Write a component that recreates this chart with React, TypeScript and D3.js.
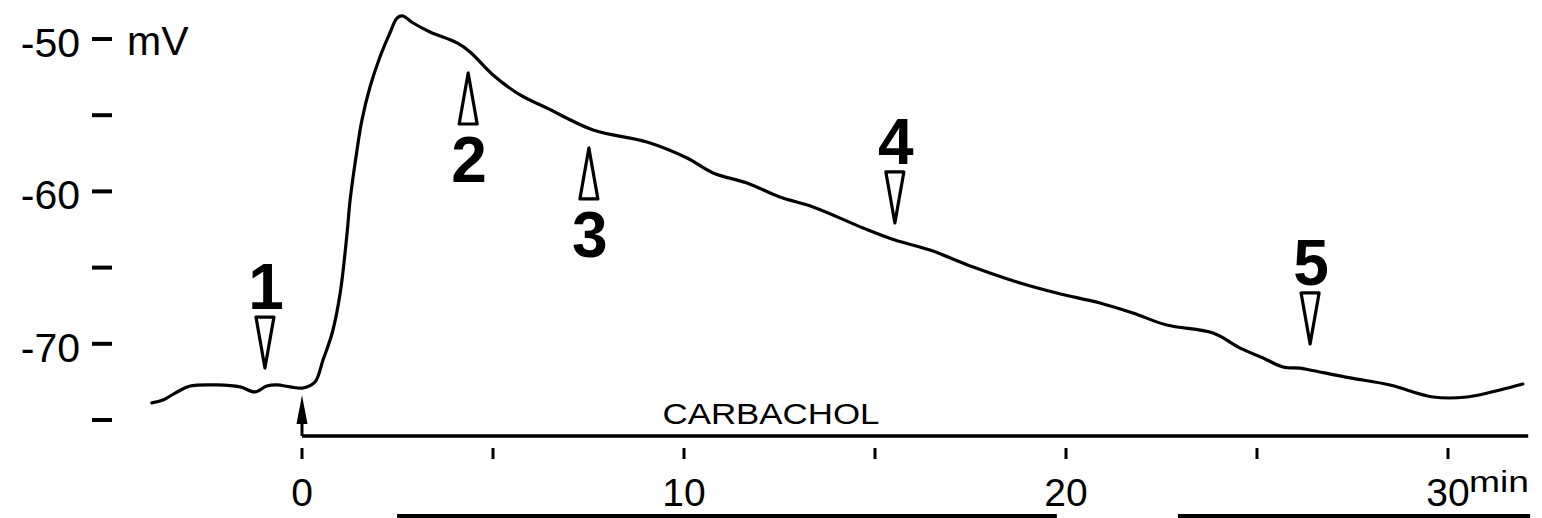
import React from "react";
import * as d3 from "d3";

// Membrane potential trace (min, mV)
const traceTime = [
  -3.93, -3.64, -3.27, -2.93, -2.23, -1.62, -1.23, -0.92, -0.65, -0.31, 0.03,
  0.34, 0.55, 0.79, 1.0, 1.18, 1.26, 1.44, 1.57, 1.78, 2.04, 2.3, 2.49, 2.64,
  2.91, 3.35, 4.06, 4.4, 5.0, 5.71, 6.41, 7.62, 9.03, 10.08, 10.76, 11.65,
  12.51, 13.38, 14.69, 15.52, 16.44, 17.57, 18.8, 19.76, 20.89, 21.75, 22.64,
  23.85, 24.56, 25.16, 25.68, 26.13, 26.39, 27.44, 28.48, 29.61, 30.5, 31.36,
  31.96,
];
const traceMv = [
  -73.88, -73.69, -73.16, -72.77, -72.7, -72.83, -73.16, -72.77, -72.7, -72.83,
  -72.9, -72.51, -71.06, -69.29, -66.67, -62.73, -60.56, -57.28, -55.31,
  -53.15, -51.18, -49.61, -48.62, -48.49, -48.95, -49.54, -50.26, -50.85,
  -52.36, -53.67, -54.53, -55.97, -56.76, -57.81, -58.79, -59.45, -60.37,
  -61.02, -62.4, -63.19, -63.85, -64.96, -66.01, -66.67, -67.32, -67.98,
  -68.77, -69.29, -70.28, -70.93, -71.52, -71.6, -71.72, -72.24, -72.7,
  -73.49, -73.49, -73.03, -72.64,
];

// Axis ticks
const yTicks = [-50, -55, -60, -65, -70, -75];
const yTickLabels = [-50, -60, -70];
const xTicks = [0, 5, 10, 15, 20, 25, 30];
const xTickLabels = [0, 10, 20, 30];

// Carbachol application (min)
const carbacholStart = 0;
const carbacholEnd = 32.1;

// Sampling markers: label, time (min), arrow tip potential (mV), direction
const markerLabels = ["1", "2", "3", "4", "5"];
const markerTimes = [-0.97, 4.35, 7.51, 15.52, 26.39];
const markerTips = [-71.59, -52.23, -57.15, -62.07, -70.01];
const markerDirs = ["down", "up", "up", "down", "down"];

// Rules along the lower edge (min)
const lowerRuleSpans = [
  [2.49, 19.76],
  [22.93, 32.15],
];

const W = 1542;
const H = 518;
const FONT = "'Liberation Sans', Arial, Helvetica, sans-serif";

export default function App() {
  const x = d3.scaleLinear().domain([0, 30]).range([302, 1448]);
  const y = d3.scaleLinear().domain([-75, -50]).range([420, 39]);

  const line = d3
    .line<number>()
    .x((_, i) => x(traceTime[i]))
    .y((d) => y(d))
    .curve(d3.curveCatmullRom.alpha(0.5));

  const barY = 436;
  const tickTop = 448;
  const tickBottom = 459;
  const labelBase = 506;

  const triW = 18;
  const triH = 51;

  const arrowX = x(carbacholStart);

  return (
    <svg
      width={W}
      height={H}
      viewBox={`0 0 ${W} ${H}`}
      style={{ position: "absolute", left: 0, top: 0, background: "#fff" }}
    >
      <rect x={0} y={0} width={W} height={H} fill="#fff" />

      {/* y axis dashes and labels */}
      {yTicks.map((v) => (
        <line
          key={`yt${v}`}
          x1={92}
          x2={112}
          y1={y(v)}
          y2={y(v)}
          stroke="#000"
          strokeWidth={4}
        />
      ))}
      {yTickLabels.map((v) => (
        <text
          key={`yl${v}`}
          x={80}
          y={y(v) + 18}
          textAnchor="end"
          fontFamily={FONT}
          fontSize={41}
          fill="#000"
        >
          {`-${Math.abs(v)}`}
        </text>
      ))}
      <text x={127} y={55} fontFamily={FONT} fontSize={41} fill="#000">
        mV
      </text>

      {/* trace */}
      <path
        d={line(traceMv) || ""}
        fill="none"
        stroke="#000"
        strokeWidth={3.2}
        strokeLinejoin="round"
        strokeLinecap="round"
      />

      {/* carbachol bar with onset arrow */}
      <line
        x1={x(carbacholStart)}
        x2={x(carbacholEnd)}
        y1={barY}
        y2={barY}
        stroke="#000"
        strokeWidth={3.5}
      />
      <line
        x1={arrowX}
        x2={arrowX}
        y1={barY}
        y2={422}
        stroke="#000"
        strokeWidth={3}
      />
      <path
        d={`M${arrowX},395 L${arrowX - 5.5},424 L${arrowX + 5.5},424 Z`}
        fill="#000"
      />
      <text
        x={771}
        y={424}
        textAnchor="middle"
        fontFamily={FONT}
        fontSize={29}
        textLength={217}
        lengthAdjust="spacingAndGlyphs"
        fill="#000"
      >
        CARBACHOL
      </text>

      {/* time axis */}
      {xTicks.map((t) => (
        <line
          key={`xt${t}`}
          x1={x(t)}
          x2={x(t)}
          y1={tickTop}
          y2={tickBottom}
          stroke="#000"
          strokeWidth={3}
        />
      ))}
      {xTickLabels.map((t) => (
        <text
          key={`xl${t}`}
          x={x(t)}
          y={labelBase}
          textAnchor="middle"
          fontFamily={FONT}
          fontSize={39}
          fill="#000"
        >
          {t}
        </text>
      ))}
      <text
        x={x(30) + 21}
        y={492}
        fontFamily={FONT}
        fontSize={29}
        textLength={60}
        lengthAdjust="spacingAndGlyphs"
        fill="#000"
      >
        min
      </text>

      {/* markers */}
      {markerLabels.map((lab, i) => {
        const tx = x(markerTimes[i]);
        const ty = y(markerTips[i]);
        const down = markerDirs[i] === "down";
        const baseY = down ? ty - triH : ty + triH;
        const d = `M${tx},${ty} L${tx - triW / 2},${baseY} L${tx + triW / 2},${baseY} Z`;
        const labelY = down ? baseY - 8 : baseY + 58;
        return (
          <g key={`m${lab}`}>
            <path
              d={d}
              fill="#fff"
              stroke="#000"
              strokeWidth={3.2}
              strokeLinejoin="round"
            />
            <text
              x={tx + 1}
              y={labelY}
              textAnchor="middle"
              fontFamily={FONT}
              fontWeight="bold"
              fontSize={64}
              fill="#000"
            >
              {lab}
            </text>
          </g>
        );
      })}

      {/* lower edge rules */}
      {lowerRuleSpans.map(([a, b], i) => (
        <line
          key={`r${i}`}
          x1={x(a)}
          x2={x(b)}
          y1={516}
          y2={516}
          stroke="#000"
          strokeWidth={4}
        />
      ))}
    </svg>
  );
}
